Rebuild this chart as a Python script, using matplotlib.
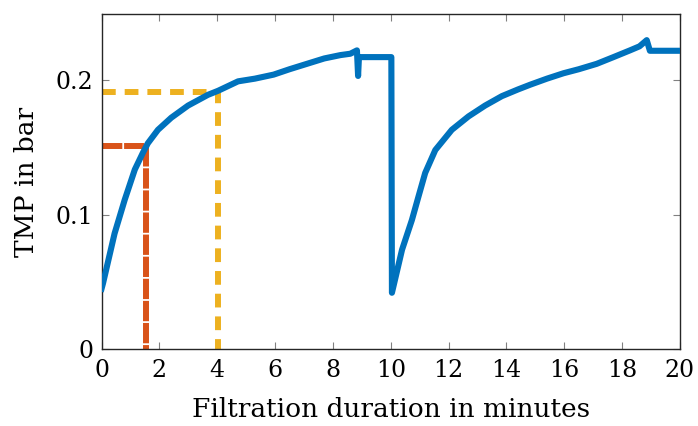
import matplotlib
matplotlib.use("Agg")
import matplotlib.pyplot as plt

# Blue TMP trace
t1 = [0.0, 0.05, 0.45, 0.80, 1.15, 1.43, 1.60, 1.95, 2.41, 2.99, 3.68, 4.03, 4.72, 5.3, 5.95, 6.5, 7.1, 7.7, 8.26, 8.6, 8.83, 8.87, 8.9, 10.02]
p1 = [0.045, 0.049, 0.086, 0.111, 0.1335, 0.146, 0.153, 0.163, 0.172, 0.181, 0.189, 0.192, 0.199, 0.201, 0.204, 0.208, 0.212, 0.216, 0.2185, 0.2195, 0.222, 0.203, 0.217, 0.217]
t2 = [10.02, 10.04, 10.39, 10.73, 10.96, 11.19, 11.54, 12.11, 12.69, 13.26, 13.84, 14.4, 14.82, 15.4, 15.97, 16.5, 17.12, 17.7, 18.27, 18.6, 18.85, 18.96, 20.0]
p2 = [0.217, 0.042, 0.074, 0.096, 0.1136, 0.131, 0.148, 0.163, 0.173, 0.181, 0.188, 0.193, 0.1965, 0.201, 0.205, 0.208, 0.212, 0.217, 0.222, 0.225, 0.2296, 0.2217, 0.2217]

# Guide lines
red_x, red_y = 1.55, 0.151
yel_x, yel_y = 4.03, 0.191

xticks = [0, 2, 4, 6, 8, 10, 12, 14, 16, 18, 20]
yticks = [0, 0.1, 0.2]
yticklabels = ["0", "0.1", "0.2"]

blue = "#0072BD"
red = "#D95319"
yellow = "#EDB120"

plt.rcParams['font.family'] = ['DejaVu Serif']

fig = plt.figure(figsize=(6.98, 4.26), dpi=100)
ax = fig.add_axes([0.1455, 0.1800, 0.9742 - 0.1455, 0.9671 - 0.1800])

ax.plot([0, red_x, red_x], [red_y, red_y, 0], color=red, lw=4.3,
        dashes=(3.4, 0.3), solid_capstyle='butt', dash_capstyle='butt', zorder=2)
ax.plot([0, yel_x, yel_x], [yel_y, yel_y, 0], color=yellow, lw=4.3,
        dashes=(2.3, 1.5), dash_capstyle='butt', zorder=2)

t = t1 + t2[1:]
p = p1 + p2[1:]
ax.plot(t, p, color=blue, lw=4.4, solid_joinstyle='round', zorder=3)

ax.set_xlim(0, 20)
ax.set_ylim(0, 0.249)
ax.set_xticks(xticks)
ax.set_yticks(yticks)
ax.set_yticklabels(yticklabels)
ax.tick_params(direction='in', length=5, width=0.8, color='#808080',
               top=True, right=True, labelsize=17)
ax.tick_params(axis='x', pad=7)
ax.tick_params(axis='y', pad=6)
for s in ax.spines.values():
    s.set_linewidth(1.0)
    s.set_color('#262626')

ax.set_xlabel("Filtration duration in minutes", fontsize=19, labelpad=11)
ax.set_ylabel("TMP in bar", fontsize=19, labelpad=12)

fig.savefig("out.png", dpi=100)
